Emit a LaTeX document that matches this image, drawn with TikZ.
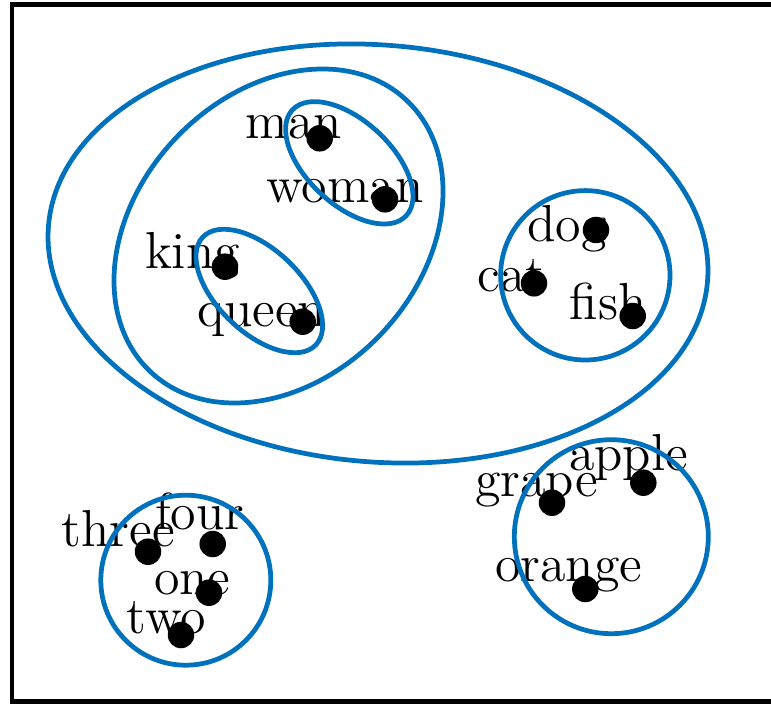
\documentclass[tikz,border=0pt]{standalone}
\usepackage{xcolor}
\usepackage{tikz}
\usetikzlibrary{positioning,calc}
\definecolor{grpblue}{HTML}{0072BD}
\tikzset{
  wdot/.style={circle, fill=black, inner sep=0pt, minimum size=2.65mm},
  wlab/.style={anchor=base west, inner sep=0pt, font=\fontsize{14.8}{18}\selectfont, text=black},
  grp/.style={draw=grpblue, line width=1.35pt},
  frame/.style={draw=black, line width=1.4pt},
}

\begin{document}
\begin{tikzpicture}
\useasboundingbox (0,0) rectangle (7.71,7.04);
\draw[frame] (0.12,0.023) rectangle (7.80,6.993);
% words
\node[wlab] (lman) at (2.450,5.655) {man};
\node[wlab] (lwoman) at (2.657,5.013) {woman};
\node[wlab] (lking) at (1.443,4.350) {king};
\node[wlab] (lqueen) at (1.967,3.773) {queen};
\node[wlab] (ldog) at (5.267,4.623) {dog};
\node[wlab] (lcat) at (4.767,4.123) {cat};
\node[wlab] (lfish) at (5.690,3.840) {fish};
\node[wlab] (lapple) at (5.683,2.340) {apple};
\node[wlab] (lgrape) at (4.743,2.080) {grape};
\node[wlab] (lorange) at (4.943,1.230) {orange};
\node[wlab] (lthree) at (0.610,1.580) {three};
\node[wlab] (lfour) at (1.543,1.747) {four};
\node[wlab] (lone) at (1.533,1.100) {one};
\node[wlab] (ltwo) at (1.260,0.707) {two};
% groups
\draw[grp, rotate around={-4.9:(3.780,4.505)}] (3.780,4.505) ellipse [x radius=3.307, y radius=2.084];
\draw[grp, rotate around={46.6:(2.785,4.680)}] (2.785,4.680) ellipse [x radius=1.866, y radius=1.419];
\draw[grp, rotate around={-42.9:(3.493,5.412)}] (3.493,5.412) ellipse [x radius=0.777, y radius=0.420];
\draw[grp, rotate around={-43.7:(2.593,4.130)}] (2.593,4.130) ellipse [x radius=0.781, y radius=0.415];
\draw[grp] (5.853,4.287) circle [radius=0.847];
\draw[grp] (6.113,1.673) circle [radius=0.970];
\draw[grp] (1.858,1.238) circle [radius=0.850];
% points
\node[wdot] (pman) at (3.197,5.657) {};
\node[wdot] (pwoman) at (3.850,5.047) {};
\node[wdot] (pking) at (2.250,4.373) {};
\node[wdot] (pqueen) at (3.027,3.823) {};
\node[wdot] (pdog) at (5.960,4.740) {};
\node[wdot] (pcat) at (5.340,4.207) {};
\node[wdot] (pfish) at (6.327,3.880) {};
\node[wdot] (papple) at (6.433,2.213) {};
\node[wdot] (pgrape) at (5.520,2.013) {};
\node[wdot] (porange) at (5.853,1.150) {};
\node[wdot] (pthree) at (1.480,1.523) {};
\node[wdot] (pfour) at (2.127,1.600) {};
\node[wdot] (pone) at (2.090,1.113) {};
\node[wdot] (ptwo) at (1.810,0.690) {};
\end{tikzpicture}
\end{document}
